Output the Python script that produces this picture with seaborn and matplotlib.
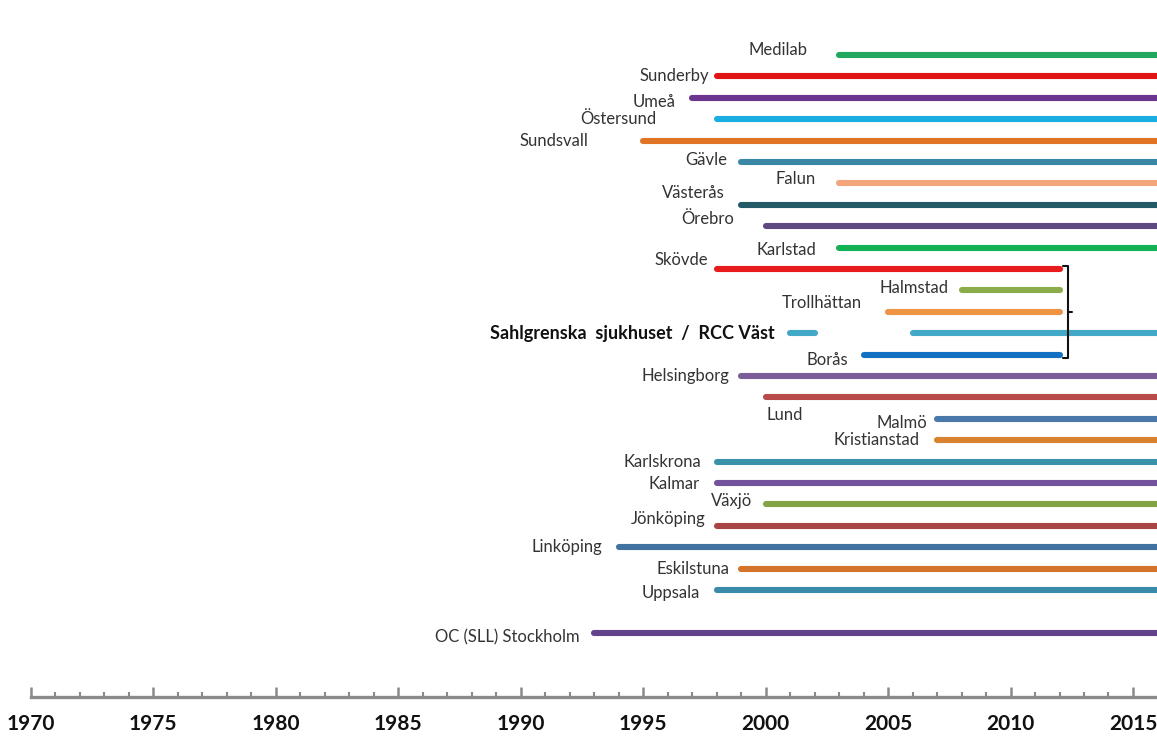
import numpy as np
import pandas as pd
import matplotlib
matplotlib.use("Agg")
import matplotlib.pyplot as plt
import seaborn as sns

# ongoing lines run past the right edge of the picture
NOW = 2017

seg_label = ["Medilab", "Sunderby", "Umeå", "Östersund", "Sundsvall", "Gävle", "Falun",
             "Västerås", "Örebro", "Karlstad", "Skövde", "Halmstad", "Trollhättan",
             "Sahlgrenska  sjukhuset  /  RCC Väst", "", "Borås", "Helsingborg", "Lund",
             "Malmö", "Kristianstad", "Karlskrona", "Kalmar", "Växjö", "Jönköping",
             "Linköping", "Eskilstuna", "Uppsala", "OC (SLL) Stockholm"]
seg_row = [0, 1, 2, 3, 4, 5, 6, 7, 8, 9, 10, 11, 12, 13, 13, 14, 15, 16, 17, 18,
           19, 20, 21, 22, 23, 24, 25, 27]
seg_start = [2003, 1998, 1997, 1998, 1995, 1999, 2003, 1999, 2000, 2003, 1998, 2008, 2005,
             2001, 2006, 2004, 1999, 2000, 2007, 2007, 1998, 1998, 2000, 1998, 1994, 1999,
             1998, 1993]
seg_end = [NOW] * 10 + [2012, 2012, 2012, 2002, NOW, 2012] + [NOW] * 12
seg_color = ["#1fa85e", "#e01414", "#6b3590", "#1aaee0", "#e07424", "#3a88a6", "#f2a47a",
             "#245a68", "#5e4a80", "#14b054", "#e81c1c", "#8aac4a", "#ee9244", "#42a8c8",
             "#42a8c8", "#1470c0", "#7a5c98", "#b84a4a", "#4a78aa", "#d8822e", "#3a92aa",
             "#72529a", "#82a444", "#a84444", "#4272a0", "#d4732a", "#3a8aaa", "#62428a"]

# rows grouped by the bracket (Västra Götaland)
bracket_rows = [10, 11, 12, 13, 14]

year_ticks = list(range(1970, 2016, 5))

# label placement relative to the line start: (dx in years, dy in rows)
label_nudge = {
    "Medilab": (-1.27, -0.23), "Sunderby": (-0.3, 0.0), "Umeå": (-0.65, 0.19),
    "Östersund": (-2.45, 0.0), "Sundsvall": (-2.24, 0.0), "Gävle": (-0.57, -0.1),
    "Falun": (-0.94, -0.19), "Västerås": (-0.65, -0.56), "Örebro": (-1.3, -0.33),
    "Karlstad": (-0.94, 0.1), "Skövde": (-0.33, -0.42), "Halmstad": (-0.53, -0.1),
    "Trollhättan": (-1.06, -0.42), "Sahlgrenska  sjukhuset  /  RCC Väst": (-0.61, 0.0),
    "Borås": (-0.61, 0.23), "Helsingborg": (-0.49, 0.0), "Malmö": (-0.41, 0.19),
    "Kristianstad": (-0.73, 0.0), "Karlskrona": (-0.61, 0.0), "Kalmar": (-0.69, 0.05),
    "Växjö": (-0.53, -0.14), "Jönköping": (-0.45, -0.33), "Linköping": (-0.65, 0.0),
    "Eskilstuna": (-0.49, 0.0), "Uppsala": (-0.69, 0.14), "OC (SLL) Stockholm": (-0.57, 0.23),
}

sns.set_style("white")
plt.rcParams["font.family"] = ["Lato", "DejaVu Sans"]

segs = pd.DataFrame({"label": seg_label, "row": seg_row, "start": seg_start,
                     "end": seg_end, "color": seg_color})
segs["seg"] = [f"s{i}" for i in range(len(segs))]
long = segs.melt(id_vars=["seg", "row"], value_vars=["start", "end"], value_name="year")
palette = dict(zip(segs["seg"], segs["color"]))

fig = plt.figure(figsize=(11.57, 7.36), dpi=100)
ax = fig.add_axes([0, 39 / 736, 1, 1 - 39 / 736])

sns.lineplot(data=long, x="year", y="row", hue="seg", palette=palette, units="seg",
             estimator=None, sort=False, legend=False, lw=4.4,
             solid_capstyle="round", ax=ax)

LABEL_SIZE = 12
for _, r in segs.iterrows():
    if not r["label"]:
        continue
    if r["label"] == "Lund":
        ax.text(r["start"] + 0.05, r["row"] + 0.84, r["label"], ha="left", va="center",
                fontsize=LABEL_SIZE, color="#333333")
        continue
    dx, dy = label_nudge[r["label"]]
    bold = r["label"].startswith("Sahlgrenska")
    ax.text(r["start"] + dx, r["row"] + dy, r["label"], ha="right", va="center",
            fontsize=13 if bold else LABEL_SIZE, color="#111111" if bold else "#333333",
            fontweight="bold" if bold else "normal")

# bracket around the Västra Götaland group
grp = segs[segs["row"].isin(bracket_rows) & (segs["end"] < NOW)]
bx = grp["end"].max() + 0.35
top, bot = min(bracket_rows) - 0.15, max(bracket_rows) + 0.15
mid = (top + bot) / 2
ax.plot([bx - 0.2, bx, bx, bx - 0.2], [top, top, bot, bot], color="#111111", lw=1.5)
ax.plot([bx, bx + 0.15], [mid, mid], color="#111111", lw=1.5)

ax.set_xlim(1968.75, 2015.98)
ax.set_ylim(30.0, -2.57)
ax.set_xlabel("")
ax.set_ylabel("")
ax.set_yticks([])
ax.set_xticks(year_ticks)
ax.set_xticks(range(1970, 2016), minor=True)
ax.set_xticklabels([str(y) for y in year_ticks], fontweight="bold", fontsize=15,
                   color="#111111")
ax.tick_params(axis="x", which="both", bottom=True, direction="in", color="#8a8a8a")
ax.tick_params(axis="x", which="major", length=7, width=1.8, pad=12)
ax.tick_params(axis="x", which="minor", length=3.5, width=1.5)
for side in ["left", "top", "right"]:
    ax.spines[side].set_visible(False)
ax.spines["bottom"].set_color("#8a8a8a")
ax.spines["bottom"].set_linewidth(2.4)
ax.spines["bottom"].set_bounds(1970, 2016)
ax.patch.set_alpha(0)

fig.savefig("out.png", dpi=100)
